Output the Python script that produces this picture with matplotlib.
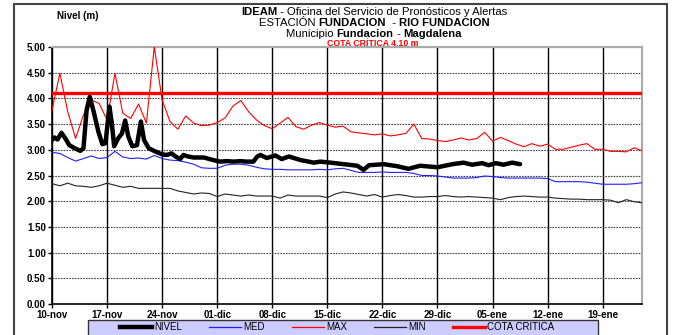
import matplotlib
matplotlib.use("Agg")
import matplotlib.pyplot as plt
from matplotlib.lines import Line2D
from matplotlib.patches import Rectangle

plt.rcParams['font.family'] = ['Liberation Sans', 'DejaVu Sans']

# days counted from 10-nov
fechas = ["10-nov", "17-nov", "24-nov", "01-dic", "08-dic", "15-dic",
          "22-dic", "29-dic", "05-ene", "12-ene", "19-ene"]
dias_fechas = [0, 7, 14, 21, 28, 35, 42, 49, 56, 63, 70]

# daily historical statistics (m)
maximos = [3.77, 4.49, 3.74, 3.22, 3.68, 3.97, 3.90, 3.58, 4.49, 3.71,
           3.61, 3.89, 3.52, 5.00, 3.97, 3.55, 3.40, 3.66, 3.52, 3.47,
           3.48, 3.53, 3.62, 3.85, 3.96, 3.74, 3.58, 3.47, 3.41, 3.52,
           3.63, 3.45, 3.40, 3.48, 3.53, 3.48, 3.44, 3.46, 3.35, 3.33,
           3.31, 3.29, 3.31, 3.27, 3.29, 3.32, 3.50, 3.22, 3.21, 3.18,
           3.16, 3.19, 3.23, 3.19, 3.22, 3.34, 3.17, 3.24, 3.18, 3.11,
           3.06, 3.12, 3.07, 3.11, 3.01, 3.01, 3.05, 3.09, 3.12, 3.01,
           3.01, 2.97, 2.97, 2.96, 3.04, 2.98]
medios = [2.95, 2.93, 2.85, 2.78, 2.83, 2.88, 2.83, 2.85, 2.97, 2.86,
          2.83, 2.84, 2.82, 2.89, 2.83, 2.80, 2.79, 2.76, 2.72, 2.65,
          2.64, 2.64, 2.70, 2.72, 2.72, 2.70, 2.66, 2.63, 2.62, 2.62,
          2.61, 2.61, 2.61, 2.61, 2.62, 2.61, 2.63, 2.64, 2.60, 2.56,
          2.56, 2.56, 2.57, 2.56, 2.56, 2.56, 2.54, 2.50, 2.50, 2.49,
          2.47, 2.45, 2.45, 2.45, 2.46, 2.49, 2.48, 2.46, 2.45, 2.45,
          2.45, 2.45, 2.45, 2.44, 2.38, 2.38, 2.38, 2.38, 2.37, 2.35,
          2.33, 2.33, 2.33, 2.33, 2.34, 2.36]
minimos = [2.34, 2.30, 2.35, 2.30, 2.29, 2.27, 2.30, 2.35, 2.31, 2.27,
           2.29, 2.25, 2.25, 2.25, 2.25, 2.25, 2.20, 2.17, 2.14, 2.16,
           2.15, 2.09, 2.14, 2.12, 2.10, 2.12, 2.10, 2.10, 2.10, 2.06,
           2.12, 2.10, 2.10, 2.10, 2.10, 2.07, 2.14, 2.18, 2.16, 2.13,
           2.10, 2.13, 2.08, 2.11, 2.13, 2.11, 2.08, 2.08, 2.09, 2.09,
           2.11, 2.09, 2.08, 2.09, 2.08, 2.07, 2.06, 2.03, 2.07, 2.09,
           2.10, 2.09, 2.08, 2.08, 2.06, 2.05, 2.04, 2.04, 2.03, 2.03,
           2.03, 2.02, 1.97, 2.03, 1.99, 1.97]
dias = list(range(len(maximos)))

# observed level readings
nivel_dias = [0.0, 0.3, 0.7, 1.2, 1.7, 2.2, 2.9, 3.6, 4.0, 4.4,
              4.8, 5.3, 5.9, 6.4, 6.8, 7.3, 7.6, 7.9, 8.4, 8.9,
              9.3, 9.7, 10.2, 10.8, 11.3, 11.7, 12.3, 13.1, 14.0, 14.6,
              15.2, 15.7, 16.3, 16.7, 17.3, 18.0, 19.3, 20.5, 21.4, 22.2,
              23.1, 23.9, 24.8, 25.6, 26.1, 26.5, 27.3, 28.4, 29.2, 30.1,
              31.6, 33.3, 34.1, 35.4, 37.1, 38.8, 39.6, 40.3, 42.2, 43.9,
              45.3, 46.8, 49.0, 50.9, 52.3, 53.4, 54.7, 55.5, 56.4, 57.4,
              58.5, 59.5]
nivel = [3.19, 3.24, 3.20, 3.33, 3.22, 3.09, 3.03, 2.98, 3.03, 3.77,
         4.03, 3.74, 3.35, 3.11, 3.13, 3.84, 3.52, 3.07, 3.22, 3.32,
         3.57, 3.26, 3.07, 3.09, 3.55, 3.19, 3.03, 2.97, 2.91, 2.90,
         2.93, 2.87, 2.82, 2.90, 2.87, 2.85, 2.85, 2.80, 2.77, 2.78,
         2.77, 2.78, 2.77, 2.77, 2.87, 2.90, 2.84, 2.89, 2.82, 2.87,
         2.80, 2.75, 2.77, 2.75, 2.72, 2.69, 2.61, 2.70, 2.72, 2.68,
         2.63, 2.69, 2.66, 2.72, 2.75, 2.71, 2.74, 2.70, 2.74, 2.71,
         2.75, 2.72]
cota_critica = 4.10

W, H = 674, 335
fig = plt.figure(figsize=(W / 100, H / 100), dpi=100)
ax = fig.add_axes([52/W, 31/H, 590/W, 257/H])


def mixed_line(y_px, parts, size, cx_px=374):
    """Centered title line built from (text, weight) runs."""
    r = fig.canvas.get_renderer()
    texts = [fig.text(0, 1 - y_px/H, s, fontsize=size, fontweight=w, va="center")
             for s, w in parts]
    widths = [t.get_window_extent(r).width for t in texts]
    x = cx_px - sum(widths) / 2
    for t, w in zip(texts, widths):
        t.set_x(x / W)
        x += w


# grid: solid weekly verticals, dotted level lines
for d in dias_fechas:
    ax.axvline(d, color="black", lw=1.0, zorder=1)
for y in [0.5 * i for i in range(1, 11)]:
    ax.axhline(y, color="#444444", lw=0.8, ls=(0, (1.5, 1)), zorder=1)

ax.plot(dias, medios, color="#2020ff", lw=0.8, zorder=3)
ax.plot(dias, maximos, color="#ff0000", lw=0.8, zorder=3)
ax.plot(dias, minimos, color="#222222", lw=0.8, zorder=3)
ax.axhline(cota_critica, color="#ff0000", lw=2.4, zorder=4)
ax.plot(nivel_dias, nivel, color="black", lw=3.2, zorder=5,
        solid_joinstyle="round", solid_capstyle="round")

ax.set_xlim(0, 75)
ax.set_ylim(0, 5)
ax.set_xticks(dias_fechas)
ax.set_xticklabels(fechas)
ax.set_yticks([0.5 * i for i in range(11)])
ax.set_yticklabels([f"{0.5 * i:.2f}" for i in range(11)])
ax.tick_params(labelsize=7, length=3, width=1, pad=1.5)
for lbl in ax.get_xticklabels() + ax.get_yticklabels():
    lbl.set_fontweight("bold")

ax.spines["left"].set_linewidth(1.2)
ax.spines["bottom"].set_linewidth(1.2)
for side in ["right", "top"]:
    ax.spines[side].set_color("#aaaaaa")
    ax.spines[side].set_linewidth(1.5)

# titles
fig.text(57/W, 1 - 16/H, "Nivel (m)", fontsize=7, fontweight="bold", va="center")
mixed_line(12, [("IDEAM", "bold"), (" - Oficina del Servicio de Pronósticos y Alertas", "normal")], 8.1)
mixed_line(23, [("ESTACIÓN ", "normal"), ("FUNDACION", "bold"), ("  - ", "normal"),
                ("RIO FUNDACION", "bold")], 8.1)
mixed_line(34, [("Municipio ", "normal"), ("Fundacion", "bold"), (" - ", "normal"),
                ("Magdalena", "bold")], 8.1)
fig.text(373/W, 1 - 43.5/H, "COTA CRÍTICA 4.10 m", fontsize=6.3, fontweight="bold",
         color="#ff0000", ha="center", va="center")

# legend on a lavender strip
fig.add_artist(Rectangle((88/W, -0.02), 510/W, 15/H + 0.02, transform=fig.transFigure,
                         facecolor="#ccccff", edgecolor="#333333", lw=1.0, zorder=1))
handles = [Line2D([], [], color="black", lw=3.2),
           Line2D([], [], color="#2020ff", lw=0.9),
           Line2D([], [], color="#ff0000", lw=0.9),
           Line2D([], [], color="#222222", lw=0.9),
           Line2D([], [], color="#ff0000", lw=2.4)]
leg = fig.legend(handles, ["NIVEL", "MED", "MAX", "MIN", "COTA CRITICA"],
                 loc="center", bbox_to_anchor=(337/W, 1 - 327.5/H), ncol=5,
                 fontsize=7, frameon=False, borderpad=0.0,
                 handlelength=3.3, handletextpad=0.2, columnspacing=2.8)
leg.set_zorder(5)

# outer frame
fig.add_artist(Rectangle((14/W, -0.05), 653/W, 1.05 - 4/H, transform=fig.transFigure,
                         fill=False, edgecolor="#444444", lw=1.5))

fig.savefig("out.png", dpi=100)
